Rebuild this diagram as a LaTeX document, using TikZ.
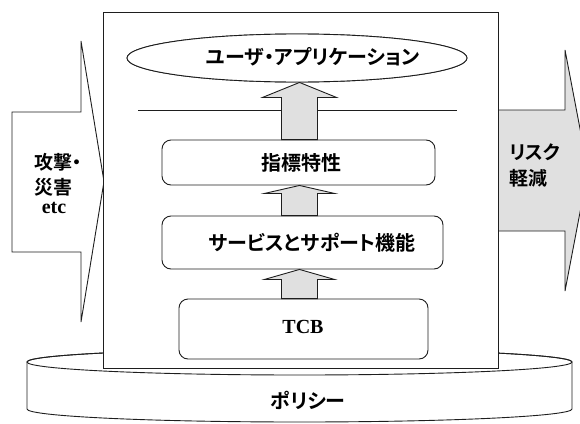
\documentclass[tikz,border=0pt]{standalone}
\usepackage{fontspec}
\setmainfont{Liberation Serif}
\newfontfamily\jp{Noto Sans CJK JP Bold}[RawFeature=+palt]
\usetikzlibrary{shapes.geometric,calc}
\definecolor{linec}{HTML}{1E1E1E}
\definecolor{grayfill}{HTML}{E0E0E0}
\tikzset{
  ln/.style={draw=linec,line width=0.9pt,line join=miter},
  layerbox/.style={ln,fill=white,rounded corners=9pt,inner sep=0pt},
  jptext/.style={font=\jp\fontsize{20}{20}\selectfont,inner sep=0pt,text=black},
  sftext/.style={font=\bfseries\fontsize{20}{20}\selectfont,inner sep=0pt,text=black},
  uparrow/.style={ln,fill=grayfill},
}
\newcommand\blockup[4]{%
  \path[uparrow] let \p1=(#1), \p2=(#2), \p3=(axis) in
    (\x3-18pt,\y1) -- (\x3-18pt,\y2-#3) -- (\x3-#4,\y2-#3) -- (\x3,\y2)
    -- (\x3+#4,\y2-#3) -- (\x3+18pt,\y2-#3) -- (\x3+18pt,\y1) -- cycle;}
\begin{document}
\begin{tikzpicture}[x=1pt,y=-1pt]
\clip (0,0) rectangle (580,423);
\useasboundingbox (0,0) rectangle (580,423);
% policy cylinder
\filldraw[ln,fill=white] (27,409) arc[start angle=180,end angle=0,x radius=272.5,y radius=13]
  -- (572,362) arc[start angle=0,end angle=-180,x radius=272.5,y radius=13] -- cycle;
\draw[ln] (299.5,362) ellipse[x radius=272.5,y radius=13];
% left (threat) arrow
\filldraw[ln,fill=white] (12,112) -- (81,112) -- (81,41) -- (104,181.5) -- (81,322) -- (81,252) -- (12,252) -- cycle;
% right (risk reduction) arrow
\filldraw[ln,fill=grayfill] (497,110) -- (565,110) -- (565,50) -- (588,170.5) -- (565,291) -- (565,231) -- (497,231) -- cycle;
% main system box
\node[ln,fill=white,minimum width=395pt,minimum height=356pt,inner sep=0pt] (sys) at (300.5,190) {};
% separator line
\coordinate (sepL) at (138,110);
\coordinate (sepR) at (457,110);
\draw[ln] (sepL) -- (sepR);
\coordinate (axis) at (299.5,0);
% layers
\node[layerbox,minimum width=273pt,minimum height=45pt] (ind) at (298.5,162.5) {};
\node[layerbox,minimum width=281pt,minimum height=53pt] (svc) at (302.5,242.5) {};
\node[layerbox,minimum width=249pt,minimum height=60pt] (tcb) at (303.5,329) {};
\node[ellipse,ln,fill=white,minimum width=340pt,minimum height=48pt,inner sep=0pt] (app) at (297,58) {};
% arrows between layers
\blockup{ind.north}{app.south}{15pt}{37pt}
\blockup{svc.north}{ind.south}{8pt}{35pt}
\blockup{tcb.north}{svc.south}{10pt}{35pt}
\node[ellipse,ln,fill=white,minimum width=340pt,minimum height=48pt,inner sep=0pt] at (297,58) {};
% texts
\node[jptext] (tapp) at (313,57) {ユーザ・アプリケーション};
\node[jptext] (tind) at (301,163) {指標特性};
\node[jptext] (tsvc) at (312,243) {サービスとサポート機能};
\node[sftext] (ttcb) at (303,327) {TCB};
\node[jptext] (tpol) at (308,400) {ポリシー};
\node[jptext,font=\jp\fontsize{19}{19}\selectfont,anchor=west] (tatk1) at (34,162) {攻撃・};
\node[jptext,font=\jp\fontsize{19}{19}\selectfont,anchor=west] (tatk2) at (34,187) {災害};
\node[sftext] (tatk3) at (54,208) {etc};
\node[jptext,font=\jp\fontsize{19}{19}\selectfont,anchor=west] (trsk1) at (509,152) {リスク};
\node[jptext,font=\jp\fontsize{19}{19}\selectfont,anchor=west] (trsk2) at (509,178) {軽減};
\end{tikzpicture}
\end{document}
